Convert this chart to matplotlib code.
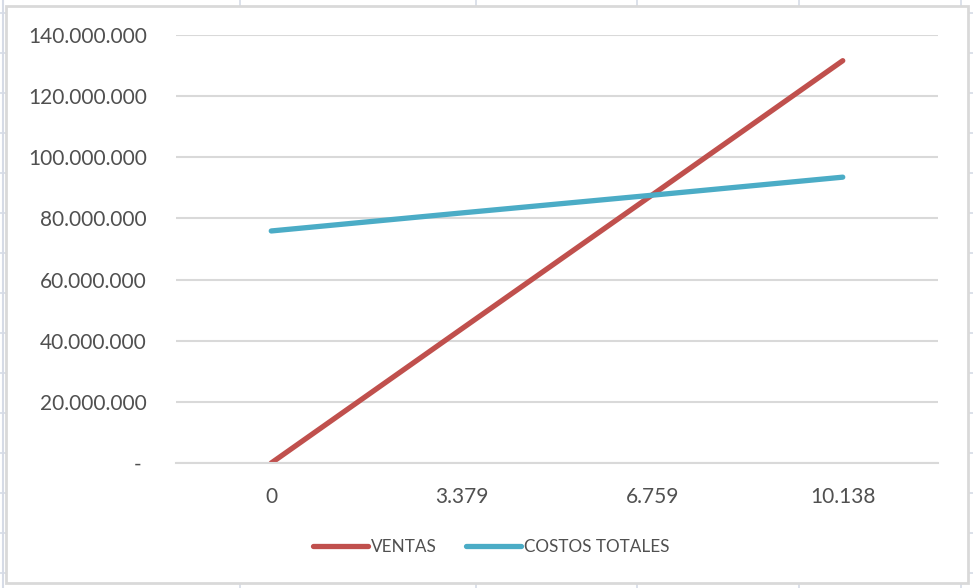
import matplotlib
matplotlib.use("Agg")
import matplotlib.pyplot as plt
from matplotlib.lines import Line2D
from matplotlib.patches import Rectangle
from matplotlib.ticker import FuncFormatter

# punto de equilibrio: unidades vs ventas y costos totales
unidades = ["0", "3.379", "6.759", "10.138"]
ventas = [0, 43.9e6, 87.7e6, 131.6e6]
costos_totales = [75.9e6, 81.8e6, 87.6e6, 93.5e6]

plt.rcParams["font.family"] = ["Lato", "DejaVu Sans"]
gris_txt = "#505050"
gris_grid = "#d9d9d9"
celda = "#d6dbe6"

fig = plt.figure(figsize=(9.73, 5.88), dpi=100)

# lineas de celdas de la hoja detras del grafico
for xc in [240, 476, 637, 799, 961]:
    fig.add_artist(Line2D([xc / 973, xc / 973], [0, 1], color=celda, lw=1.2, zorder=-3))
for yc in range(13, 588, 40):
    fig.add_artist(Line2D([0, 1], [1 - yc / 588, 1 - yc / 588], color=celda, lw=1.2, zorder=-3))
fig.add_artist(Line2D([3 / 973, 3 / 973], [0, 1], color=celda, lw=1.5, zorder=-3))

# area del grafico
fig.add_artist(Rectangle((6 / 973, 1 - 583 / 588), 962 / 973, 577 / 588,
                         facecolor="white", edgecolor=gris_grid, lw=2, zorder=-1))

ax = fig.add_axes([176 / 973, 1 - 463 / 588, 762 / 973, 428 / 588])
ax.patch.set_visible(False)
x = range(len(unidades))
ax.plot(x, ventas, color="#c0504d", lw=3.8, solid_capstyle="round", label="VENTAS")
ax.plot(x, costos_totales, color="#4bacc6", lw=3.8, solid_capstyle="round",
        label="COSTOS TOTALES")

ax.set_xlim(-0.5, 3.5)
ax.set_ylim(0, 140e6)
ax.set_yticks([i * 20e6 for i in range(8)])
ax.set_xticks(list(x))
ax.set_xticklabels(unidades)


def miles(v, pos):
    if v == 0:
        return "- "
    return f"{v:,.0f}".replace(",", ".")


ax.yaxis.set_major_formatter(FuncFormatter(miles))
ax.grid(axis="y", color=gris_grid, lw=1.5)
ax.set_axisbelow(True)
for s in ["top", "right", "left"]:
    ax.spines[s].set_visible(False)
ax.spines["bottom"].set_color(gris_grid)
ax.spines["bottom"].set_linewidth(1.5)
ax.tick_params(length=0, labelsize=15, labelcolor=gris_txt)
ax.tick_params(axis="y", pad=21)
ax.tick_params(axis="x", pad=17.5)

fig.legend(loc="center", bbox_to_anchor=(0.505, 1 - 547 / 588), ncol=2, frameon=False,
           fontsize=12.3, labelcolor=gris_txt, handlelength=3.2, handletextpad=0.2,
           columnspacing=1.7)

fig.savefig("out.png", dpi=100)
